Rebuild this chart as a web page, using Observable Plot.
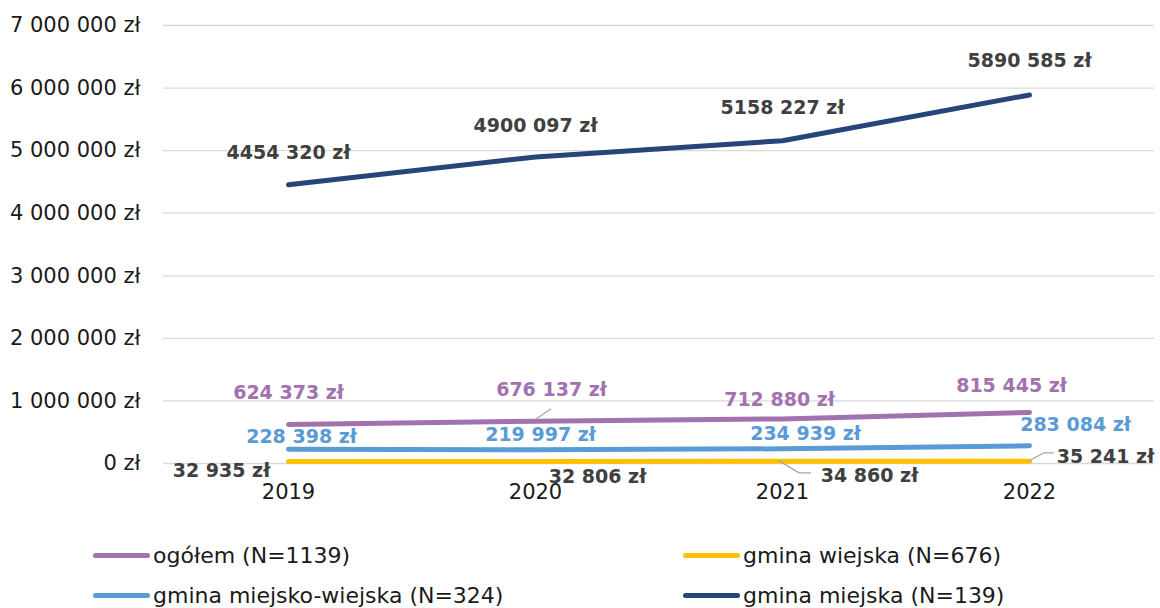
<!DOCTYPE html>
<html>
<head>
<meta charset="utf-8">
<script src="https://cdn.jsdelivr.net/npm/d3@7"></script>
<script src="https://cdn.jsdelivr.net/npm/@observablehq/plot@0.6"></script>
<style>
  html, body { margin: 0; padding: 0; background: #fff; }
  #wrap { position: relative; width: 1160px; height: 608px; font-family: "DejaVu Sans", sans-serif; }
  #legend { position: absolute; left: 0; top: 520px; width: 1160px; height: 88px; }
  .item { position: absolute; display: flex; align-items: center; font-size: 22px; color: #1a1a1a; white-space: nowrap; }
  .sw { width: 57px; height: 5px; border-radius: 3px; margin-right: 3px; }
</style>
</head>
<body>
<div id="wrap"><div id="chart"></div><div id="legend"></div></div>
<script>
// ---- data ----
const years = ["2019", "2020", "2021", "2022"];
const seriesNames = ["ogółem (N=1139)", "gmina wiejska (N=676)", "gmina miejsko-wiejska (N=324)", "gmina miejska (N=139)"];
const ogolem = [624373, 676137, 712880, 815445];
const wiejska = [32935, 32806, 34860, 35241];
const miejskoWiejska = [228398, 219997, 234939, 283084];
const miejska = [4454320, 4900097, 5158227, 5890585];
const yTicks = [0, 1000000, 2000000, 3000000, 4000000, 5000000, 6000000, 7000000];

// ---- styles ----
const colors = {
  "ogółem (N=1139)": "#A272B0",
  "gmina wiejska (N=676)": "#FFC000",
  "gmina miejsko-wiejska (N=324)": "#5B9BD5",
  "gmina miejska (N=139)": "#27457A"
};
const labelColors = {
  "ogółem (N=1139)": "#A272B0",
  "gmina wiejska (N=676)": "#404040",
  "gmina miejsko-wiejska (N=324)": "#5B9BD5",
  "gmina miejska (N=139)": "#404040"
};
// label offsets in pixels [dx, dy] per series per year
const labelOffsets = {
  "ogółem (N=1139)": [[0, -32], [16, -31], [-3, -19], [-18, -27]],
  "gmina wiejska (N=676)": [[-67, 9], [62, 15], [87, 15], [76, -4]],
  "gmina miejsko-wiejska (N=324)": [[13, -12], [5, -15], [23, -15], [46, -21]],
  "gmina miejska (N=139)": [[0, -32], [0, -31], [0, -33], [0, -34]]
};

const table = [];
[[seriesNames[0], ogolem], [seriesNames[1], wiejska], [seriesNames[2], miejskoWiejska], [seriesNames[3], miejska]]
  .forEach(([name, vals]) => vals.forEach((v, i) => table.push({series: name, year: years[i], value: v, idx: i})));

const grp = v => d3.format(",")(v).split(",");
const tickFmt = v => grp(v).join(" ") + " zł";
const labelFmt = v => {
  const g = grp(v);
  return (g.length > 2 ? [g[0] + g[1], ...g.slice(2)] : g).join(" ") + " zł";
};

const textMarks = table.map(d => {
  const [dx, dy] = labelOffsets[d.series][d.idx];
  return Plot.text([d], {
    x: "year", y: "value", text: r => labelFmt(r.value),
    dx, dy, fill: labelColors[d.series], fontWeight: "bold", fontSize: 19, textAnchor: "middle"
  });
});

const lineOrder = [seriesNames[0], seriesNames[2], seriesNames[1], seriesNames[3]];

const chart = Plot.plot({
  width: 1160, height: 520,
  marginTop: 25, marginBottom: 57, marginLeft: 163, marginRight: 6,
  style: { fontFamily: "DejaVu Sans, sans-serif", fontSize: "20px", color: "#1a1a1a", background: "#fff" },
  x: { type: "point", domain: years, padding: 0.5 },
  y: { domain: [0, 7000000] },
  marks: [
    Plot.gridY(yTicks, { stroke: "#d9d9d9", strokeOpacity: 1, strokeWidth: 1.3 }),
    Plot.axisY(yTicks, { tickSize: 0, tickPadding: 23, tickFormat: tickFmt, fontSize: 21, label: null }),
    Plot.axisX({ tickSize: 0, tickPadding: 21, fontSize: 21, label: null }),
    ...lineOrder.map(s => Plot.line(table.filter(d => d.series === s), {
      x: "year", y: "value", stroke: colors[s], strokeWidth: 5, strokeLinecap: "round", strokeLinejoin: "round"
    })),
    ...textMarks
  ]
});
document.getElementById("chart").appendChild(chart);

// leader lines for displaced labels, positioned through the plot's scales
const xs = chart.scale("x"), ys = chart.scale("y");
const px = (yr) => xs.apply(yr), py = (v) => ys.apply(v);
const leaders = [
  [px("2020"), py(ogolem[1]), [[0, -1], [16, -12]]],
  [px("2021"), py(wiejska[2]), [[-3, 0], [17, 12], [29, 12]]],
  [px("2022"), py(wiejska[3]), [[0, 0], [15, -8], [25, -8]]]
];
const svg = d3.select(chart.tagName.toLowerCase() === "svg" ? chart : chart.querySelector("svg"));
leaders.forEach(([x0, y0, pts]) => {
  svg.append("path")
    .attr("d", d3.line()(pts.map(([dx, dy]) => [x0 + dx, y0 + dy])))
    .attr("fill", "none").attr("stroke", "#a6a6a6").attr("stroke-width", 1.3);
});

// legend
const legendPos = [[93, 35], [683, 35], [93, 75], [683, 75]];
const legend = document.getElementById("legend");
seriesNames.forEach((s, i) => {
  const it = document.createElement("div");
  it.className = "item";
  it.style.left = legendPos[i][0] + "px";
  it.style.top = (legendPos[i][1] - 14) + "px";
  it.style.height = "28px";
  const sw = document.createElement("div");
  sw.className = "sw"; sw.style.background = colors[s];
  const t = document.createElement("span"); t.textContent = s;
  it.appendChild(sw); it.appendChild(t);
  legend.appendChild(it);
});
</script>
</body>
</html>
